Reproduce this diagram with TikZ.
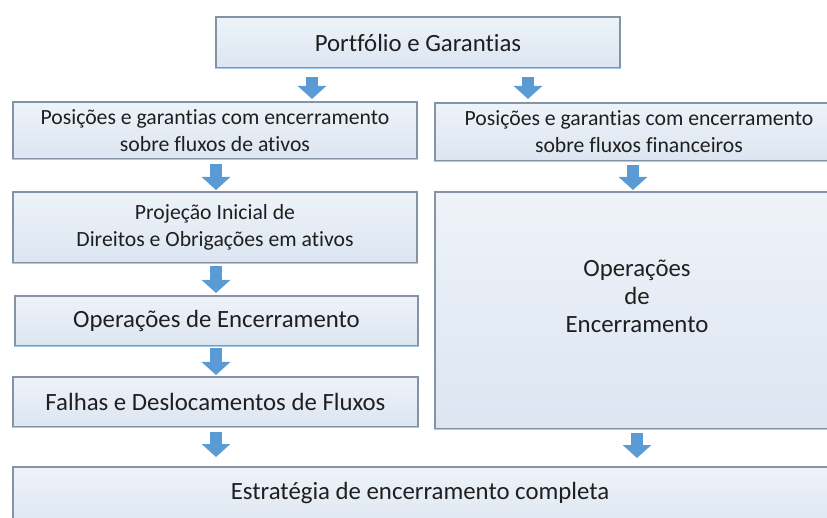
\documentclass[tikz,border=0pt]{standalone}
\usepackage{fontspec}
\setmainfont{Carlito}[Ligatures=NoCommon]
\usetikzlibrary{arrows.meta}
\definecolor{boxtop}{HTML}{EEF3F9}
\definecolor{boxbot}{HTML}{DCE5F1}
\definecolor{boxedge}{HTML}{8593A6}
\definecolor{boxlow}{HTML}{A7CBEA}
\definecolor{arrowblue}{HTML}{5B9BD5}
\definecolor{txt}{HTML}{1F1F1F}
\tikzset{
  box/.style={rectangle, draw=boxedge, line width=1.3pt, top color=boxtop, bottom color=boxbot,
    inner sep=0pt, align=center, text=txt},
  bigtxt/.style={font=\fontsize{24.8}{28}\selectfont},
  smalltxt/.style={font=\fontsize{21.7}{27}\selectfont},
  lowedge/.style={draw=boxlow, line width=1.3pt},
  flow/.style={draw=arrowblue, line width=12pt, -{Triangle[width=28pt,length=13pt,fill=arrowblue]}},
  label/.style={inner sep=0pt, align=center, text=txt}
}
\begin{document}
\begin{tikzpicture}[x=1pt,y=-1pt]
\useasboundingbox (0,0) rectangle (827,518);
\node[box, bigtxt, minimum width=404pt, minimum height=51pt] (top) at (418,42.5) {Portfólio e Garantias};
\node[box, smalltxt, minimum width=404pt, minimum height=57pt] (L1) at (215,130.5) {Posições e garantias com encerramento\\sobre fluxos de ativos};
\node[box, smalltxt, minimum width=408pt, minimum height=58pt] (R1) at (639,132) {Posições e garantias com encerramento\\sobre fluxos financeiros};
\node[box, smalltxt, minimum width=404pt, minimum height=71pt] (L2) at (215,227.5) {Projeção Inicial de\\Direitos e Obrigações em ativos};
\node[box, minimum width=408pt, minimum height=237pt] (R2) at (639,310.5) {};
\node[label, bigtxt] (R2t) at (637,296) {Operações\\de\\Encerramento};
\node[box, bigtxt, minimum width=403pt, minimum height=50pt] (L3) at (216.5,321) {Operações de Encerramento};
\node[box, bigtxt, minimum width=405pt, minimum height=50pt] (L4) at (215.5,402) {Falhas e Deslocamentos de Fluxos};
\node[box, minimum width=815pt, minimum height=66pt] (B) at (420.5,500) {};
\node[label, bigtxt] (Bt) at (420,493) {Estratégia de encerramento completa};
\foreach \n in {top,L1,R1,L2,R2,L3,L4}
  \draw[lowedge] (\n.south west) -- (\n.south east);
\coordinate (a1s) at (312,77);  \coordinate (a1e) at (312,99);
\coordinate (a2s) at (528,77);  \coordinate (a2e) at (528,99);
\coordinate (a3s) at (216,164); \coordinate (a3e) at (216,190);
\coordinate (a4s) at (633,165); \coordinate (a4e) at (633,190);
\coordinate (a5s) at (216,266); \coordinate (a5e) at (216,293);
\coordinate (a6s) at (216,348); \coordinate (a6e) at (216,375);
\coordinate (a7s) at (216,432); \coordinate (a7e) at (216,457);
\coordinate (a8s) at (637,433); \coordinate (a8e) at (637,458);
\foreach \a in {a1,a2,a3,a4,a5,a6,a7,a8}
  \draw[flow] (\a s) -- (\a e);
\end{tikzpicture}
\end{document}
